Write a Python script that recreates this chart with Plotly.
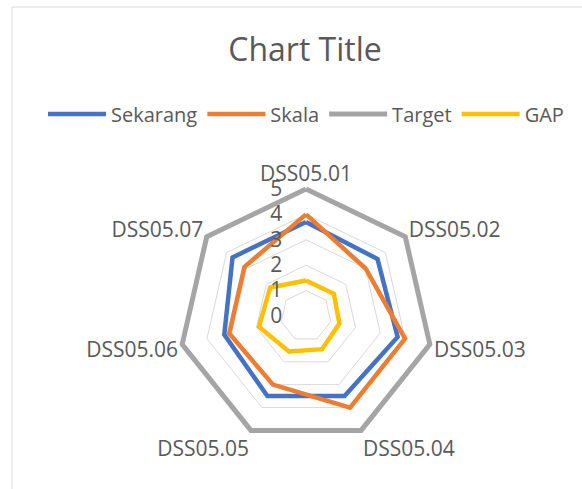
import plotly.graph_objects as go

categories = ["DSS05.01", "DSS05.02", "DSS05.03", "DSS05.04", "DSS05.05", "DSS05.06", "DSS05.07"]
sekarang = [3.7, 3.6, 3.7, 3.5, 3.5, 3.3, 3.7]
skala = [4, 3, 4, 4, 3, 3.1, 3.1]
target = [5, 5, 5, 5, 5, 5, 5]
gap = [1.4, 1.4, 1.35, 1.45, 1.55, 1.9, 1.8]
radial_ticks = [0, 1, 2, 3, 4, 5]

series = [
    ("Sekarang", sekarang, "#4472C4", 4.5),
    ("Skala", skala, "#ED7D31", 4.5),
    ("Target", target, "#A5A5A5", 5),
    ("GAP", gap, "#FFC000", 4.5),
]

FONT = "Open Sans"
TXT = "#595959"
W, H = 582, 489
RMAX = 5.15

fig = go.Figure()
for name, vals, color, lw in series:
    fig.add_trace(go.Scatterpolar(
        r=vals + vals[:1],
        theta=categories + categories[:1],
        mode="lines",
        name=name,
        cliponaxis=False,
        line=dict(color=color, width=lw),
    ))

cx, cy, R5 = 306, 316, 127
R = R5 * RMAX / 5
fig.update_layout(
    width=W, height=H,
    margin=dict(l=0, r=0, t=0, b=0),
    paper_bgcolor="white",
    plot_bgcolor="white",
    font=dict(family=FONT, color=TXT, size=21),
    title=dict(text="Chart Title", x=305 / W, y=1 - 50 / H, xanchor="center", yanchor="middle",
               font=dict(family=FONT, size=32, color=TXT)),
    legend=dict(orientation="h", x=306 / W, y=1 - 114 / H, xanchor="center", yanchor="middle",
                font=dict(family=FONT, size=20, color=TXT), itemwidth=58,
                bgcolor="rgba(0,0,0,0)"),
    polar=dict(
        domain=dict(x=[(cx - R) / W, (cx + R) / W], y=[1 - (cy + R) / H, 1 - (cy - R) / H]),
        gridshape="linear",
        bgcolor="white",
        radialaxis=dict(range=[0, RMAX], tickvals=radial_ticks, angle=90, tickangle=90,
                        side="counterclockwise",
                        showline=False, ticks="outside", ticklen=16, tickcolor="rgba(0,0,0,0)",
                        gridcolor="#D9D9D9", gridwidth=1,
                        tickfont=dict(family=FONT, size=21, color=TXT)),
        angularaxis=dict(direction="clockwise", rotation=90, showgrid=False, showline=False,
                         ticks="", tickfont=dict(family=FONT, size=21, color=TXT)),
    ),
    shapes=[dict(type="rect", xref="paper", yref="paper", x0=12 / W, x1=1.2, y0=-0.2, y1=1 - 7 / H,
                 line=dict(color="#D9D9D9", width=1), fillcolor="rgba(0,0,0,0)", layer="below")],
)

fig.write_html("out.html", config={"displayModeBar": False},
               post_script="document.body.style.margin='0';")
